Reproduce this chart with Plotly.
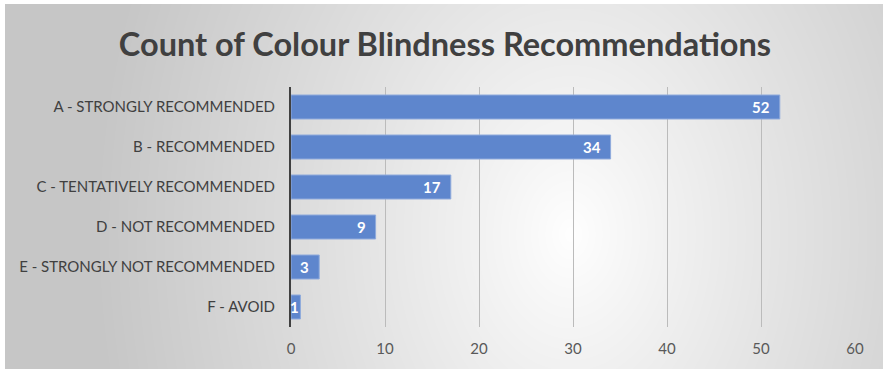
import base64
import struct
import zlib

import numpy as np
import plotly.graph_objects as go

# ---- data ----
categories = [
    "A - STRONGLY RECOMMENDED",
    "B - RECOMMENDED",
    "C - TENTATIVELY RECOMMENDED",
    "D - NOT RECOMMENDED",
    "E - STRONGLY NOT RECOMMENDED",
    "F - AVOID",
]
counts = [52, 34, 17, 9, 3, 1]
x_ticks = [0, 10, 20, 30, 40, 50, 60]
title_text = "Count of Colour Blindness Recommendations"

# ---- canvas geometry (pixels) ----
W, H = 883, 372
M_L, M_R, M_T, M_B = 291, 28, 87, 45
PLOT_W = W - M_L - M_R
PLOT_H = H - M_T - M_B
BOX_X0, BOX_Y0, BOX_X1, BOX_Y1 = 5, 4, 883, 369


def radial_background(w, h, cx, cy, rx, ry, inner=255, outer=198):
    """Soft radial white-to-grey fill, encoded as a PNG data URI."""
    yy, xx = np.mgrid[0:h, 0:w].astype(float)
    d = np.sqrt(((xx - cx) / rx) ** 2 + ((yy - cy) / ry) ** 2)
    t = np.clip(d, 0, 1) ** 0.9
    v = (inner - (inner - outer) * t).astype(np.uint8)
    img = np.dstack([v, v, v])
    raw = b"".join(b"\x00" + img[r].tobytes() for r in range(h))

    def chunk(tag, data):
        c = struct.pack(">I", len(data)) + tag + data
        return c + struct.pack(">I", zlib.crc32(tag + data) & 0xFFFFFFFF)

    png = b"\x89PNG\r\n\x1a\n"
    png += chunk(b"IHDR", struct.pack(">IIBBBBB", w, h, 8, 2, 0, 0, 0))
    png += chunk(b"IDAT", zlib.compress(raw, 9))
    png += chunk(b"IEND", b"")
    return "data:image/png;base64," + base64.b64encode(png).decode()


box_w, box_h = BOX_X1 - BOX_X0, BOX_Y1 - BOX_Y0
bg_src = radial_background(box_w, box_h, cx=565, cy=230, rx=480, ry=650)

fig = go.Figure(
    go.Bar(
        x=counts,
        y=categories,
        orientation="h",
        width=0.6,
        marker=dict(color="#5E86CD", line=dict(color="#8FAADC", width=1)),
        hoverinfo="skip",
    )
)

# value labels sitting just inside the end of each bar
label_font = dict(family="Lato", size=15, color="white", weight="bold")
for cat, val in zip(categories, counts):
    fig.add_annotation(
        x=val,
        y=cat,
        xref="x",
        yref="y",
        text=str(val),
        showarrow=False,
        xanchor="right",
        yanchor="middle",
        xshift=-8 if val >= 3 else 1,
        font=label_font,
    )

fig.update_layout(
    width=W,
    height=H,
    margin=dict(l=M_L, r=M_R, t=M_T, b=M_B, pad=0),
    paper_bgcolor="white",
    plot_bgcolor="rgba(0,0,0,0)",
    showlegend=False,
    title=dict(
        text=title_text,
        x=(445 / W),
        xref="container",
        xanchor="center",
        y=1 - 45 / H,
        yref="container",
        yanchor="middle",
        font=dict(family="Lato", size=32.5, color="#404040", weight="bold"),
    ),
    images=[
        dict(
            source=bg_src,
            xref="paper",
            yref="paper",
            x=(BOX_X0 - M_L) / PLOT_W,
            y=(H - M_B - BOX_Y0) / PLOT_H,
            sizex=box_w / PLOT_W,
            sizey=box_h / PLOT_H,
            sizing="stretch",
            xanchor="left",
            yanchor="top",
            layer="below",
        )
    ],
    font=dict(family="Lato", size=15, color="#404040"),
)

fig.update_xaxes(
    range=[0, 60],
    tickvals=x_ticks,
    ticktext=[str(v) for v in x_ticks],
    showgrid=True,
    gridcolor="#BBBBBB",
    gridwidth=1,
    zeroline=False,
    showline=False,
    ticks="",
    ticklabelstandoff=11,
    tickfont=dict(family="Lato", size=15, color="#595959"),
    fixedrange=True,
)

fig.update_yaxes(
    autorange="reversed",
    showgrid=False,
    zeroline=False,
    showline=True,
    linecolor="#404040",
    linewidth=2,
    ticks="",
    ticklabelstandoff=11,
    tickfont=dict(family="Lato", size=15, color="#404040"),
    fixedrange=True,
)

fig.write_html("out.html")
